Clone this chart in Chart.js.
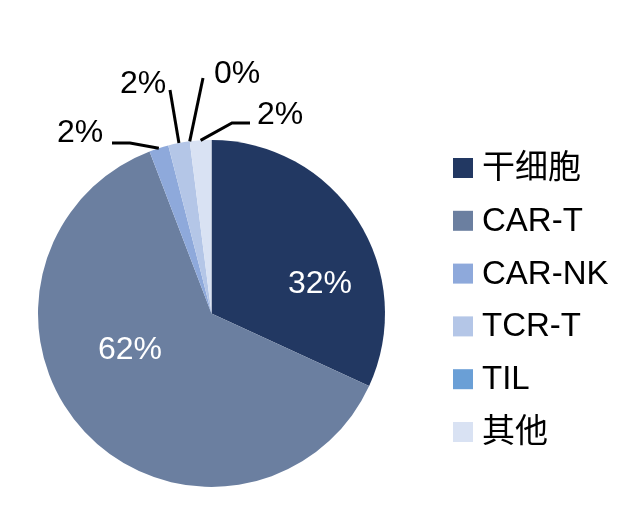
<!DOCTYPE html>
<html>
<head>
<meta charset="utf-8">
<script src="https://cdn.jsdelivr.net/npm/chart.js@4"></script>
<style>
  html, body { margin: 0; padding: 0; background: #fff; }
  #wrap { width: 644px; height: 527px; }
</style>
</head>
<body>
<div id="wrap"><canvas id="pieChart" width="644" height="527"></canvas></div>
<script>
// data
const categories = ["干细胞", "CAR-T", "CAR-NK", "TCR-T", "TIL", "其他"];
const shares = [31.8, 62.2, 1.8, 2.0, 0, 2.0];
const shareLabels = ["32%", "62%", "2%", "2%", "0%", "2%"];
const sliceColors = ["#223862", "#6b7fa0", "#8ea9db", "#b4c6e7", "#6a9fd6", "#d9e2f3"];

const FONT = '"Liberation Sans", "Noto Sans CJK SC", Arial, sans-serif';

// where the percent labels go (text centres), plus leader elbows for outside ones
const labelSpots = [
    { x: 320, y: 284, inside: true },
    { x: 130, y: 350, inside: true },
    { x: 80, y: 133, elbow: [[130, 143], [112, 143]] },
    { x: 143, y: 84, elbow: [[170, 90]] },
    { x: 237, y: 74, elbow: [[203, 78]] },
    { x: 280, y: 115, elbow: [[232, 123], [250, 123]] },
];

const pieLabels = {
    id: "pieLabels",
    afterDatasetsDraw(chart) {
        const ctx = chart.ctx;
        const arcs = chart.getDatasetMeta(0).data;
        ctx.save();
        ctx.font = "32px " + FONT;
        ctx.textAlign = "center";
        ctx.textBaseline = "middle";
        arcs.forEach((arc, i) => {
            const spot = labelSpots[i];
            if (spot.inside) {
                ctx.fillStyle = "#ffffff";
                ctx.fillText(shareLabels[i], spot.x, spot.y);
                return;
            }
            // start the leader at the outer edge, middle of the slice
            const mid = (arc.startAngle + arc.endAngle) / 2;
            const sx = arc.x + Math.cos(mid) * arc.outerRadius;
            const sy = arc.y + Math.sin(mid) * arc.outerRadius;
            ctx.strokeStyle = "#000";
            ctx.lineWidth = 3;
            ctx.beginPath();
            ctx.moveTo(sx, sy);
            spot.elbow.forEach(p => ctx.lineTo(p[0], p[1]));
            ctx.stroke();
            ctx.fillStyle = "#000";
            ctx.fillText(shareLabels[i], spot.x, spot.y);
        });
        ctx.restore();
    }
};

// legend on the right
const sideLegend = {
    id: "sideLegend",
    afterDraw(chart) {
        const ctx = chart.ctx;
        ctx.save();
        ctx.font = "33px " + FONT;
        ctx.textAlign = "left";
        ctx.textBaseline = "middle";
        categories.forEach((name, i) => {
            const cy = 168 + i * 52.8;
            ctx.fillStyle = sliceColors[i];
            ctx.fillRect(453, cy - 10, 20, 20);
            ctx.fillStyle = "#000";
            ctx.fillText(name, 482, cy + 1);
        });
        ctx.restore();
    }
};

new Chart(document.getElementById("pieChart"), {
    type: "pie",
    data: {
        labels: categories,
        datasets: [
            {
                data: shares,
                backgroundColor: sliceColors,
                borderWidth: 0,
            },
        ],
    },
    options: {
        responsive: false,
        animation: false,
        layout: {
            padding: { left: 38, right: 259, top: 140, bottom: 40 },
        },
        plugins: {
            legend: { display: false },
            tooltip: { enabled: false },
        },
    },
    plugins: [pieLabels, sideLegend],
});
</script>
</body>
</html>
